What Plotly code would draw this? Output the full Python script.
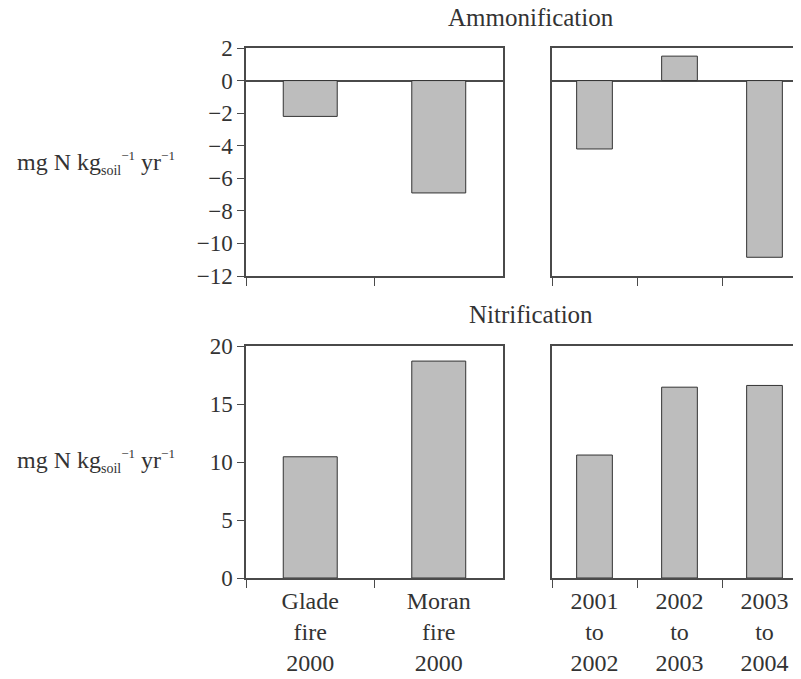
import plotly.graph_objects as go

fire_categories = ["Glade<br>fire<br>2000", "Moran<br>fire<br>2000"]
year_categories = ["2001<br>to<br>2002", "2002<br>to<br>2003", "2003<br>to<br>2004"]

ammon_fire = [-2.2, -6.9]
ammon_year = [-4.2, 1.5, -10.85]
nitri_fire = [10.45, 18.7]
nitri_year = [10.6, 16.45, 16.6]

tick_ammon = [2, 0, -2, -4, -6, -8, -10, -12]
tick_nitri = [0, 5, 10, 15, 20]

FONT = "Liberation Serif"
LINE = "#4a4a4a"
BAR = "#bdbdbd"
TXT = "#333333"

W, H = 801, 679
OFF = 8  # page body margin


def fx(px):
    return (px - OFF) / W


def fy(py):
    return 1 - (py - OFF) / H


fig = go.Figure()

bar_style = dict(marker=dict(color=BAR, line=dict(color="#333333", width=1)), width=0.42,
                 showlegend=False, hoverinfo="skip")

fig.add_trace(go.Bar(x=fire_categories, y=ammon_fire, xaxis="x", yaxis="y", **bar_style))
fig.add_trace(go.Bar(x=year_categories, y=ammon_year, xaxis="x2", yaxis="y2", **bar_style))
fig.add_trace(go.Bar(x=fire_categories, y=nitri_fire, xaxis="x3", yaxis="y3", **bar_style))
fig.add_trace(go.Bar(x=year_categories, y=nitri_year, xaxis="x4", yaxis="y4", **bar_style))

xl = [fx(246), fx(503)]
xr = [fx(552), fx(807)]
yt = [fy(276), fy(48)]
yb = [fy(578), fy(346)]

common_x = dict(type="category", tickson="boundaries", ticks="outside", ticklen=8,
                tickcolor=LINE, tickwidth=1.2, showline=True, linecolor=LINE, linewidth=1.5,
                showgrid=False, zeroline=False, fixedrange=True, automargin=False,
                tickfont=dict(family=FONT, size=24, color=TXT))
common_y = dict(showline=True, linecolor=LINE, linewidth=1.5, showgrid=False,
                tickcolor=LINE, tickwidth=1.2, ticklen=7, fixedrange=True, automargin=False,
                tickfont=dict(family=FONT, size=23, color=TXT))

fig.update_layout(
    width=W, height=H,
    margin=dict(l=0, r=0, t=0, b=0, pad=0),
    paper_bgcolor="white", plot_bgcolor="white",
    xaxis=dict(domain=xl, anchor="y", range=[-0.5, 1.5], mirror=True, showticklabels=False,
               categoryorder="array", categoryarray=fire_categories, **common_x),
    yaxis=dict(domain=yt, anchor="x", range=[-12, 2], tickvals=tick_ammon, ticks="outside",
               mirror=True, zeroline=True, zerolinecolor=LINE, zerolinewidth=1.5, **common_y),
    xaxis2=dict(domain=xr, anchor="y2", range=[-0.5, 2.5], mirror=True, showticklabels=False,
                categoryorder="array", categoryarray=year_categories, **common_x),
    yaxis2=dict(domain=yt, anchor="x2", range=[-12, 2], ticks="", showticklabels=False,
                zeroline=True, zerolinecolor=LINE, zerolinewidth=1.5, **common_y),
    xaxis3=dict(domain=xl, anchor="y3", range=[-0.5, 1.5], mirror=True,
                categoryorder="array", categoryarray=fire_categories, **common_x),
    yaxis3=dict(domain=yb, anchor="x3", range=[0, 20], tickvals=tick_nitri, ticks="outside",
                mirror=True, zeroline=False, **common_y),
    xaxis4=dict(domain=xr, anchor="y4", range=[-0.5, 2.5], mirror=True,
                categoryorder="array", categoryarray=year_categories, **common_x),
    yaxis4=dict(domain=yb, anchor="x4", range=[0, 20], ticks="", showticklabels=False,
                zeroline=False, **common_y),
)

ylabel = ("mg N kg<sub><span style='font-size:14px'>soil</span></sub>"
          "<sup><span style='font-size:13px'>−1</span></sup> yr"
          "<sup><span style='font-size:13px'>−1</span></sup>")
annots = [
    dict(text="Ammonification", x=fx(531), y=fy(18), xanchor="center", yanchor="middle", size=25),
    dict(text="Nitrification", x=fx(531), y=fy(315), xanchor="center", yanchor="middle", size=25),
    dict(text=ylabel, x=fx(15), y=fy(163), xanchor="left", yanchor="middle", size=24),
    dict(text=ylabel, x=fx(15), y=fy(461), xanchor="left", yanchor="middle", size=24),
]
for a in annots:
    size = a.pop("size")
    fig.add_annotation(xref="paper", yref="paper", showarrow=False,
                       font=dict(family=FONT, size=size, color=TXT), **a)

fig.write_html("out.html")
